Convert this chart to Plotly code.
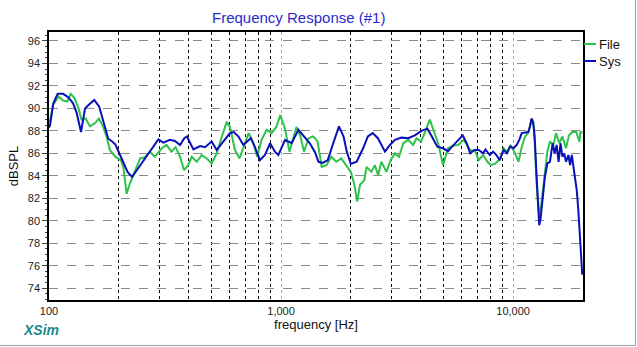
import plotly.graph_objects as go

# Measured response: "File" (green) and simulated system "Sys" (blue)
file_freq = [101, 104, 110, 115, 120, 124, 129, 134, 138, 144, 150, 158, 164, 171, 177, 183, 193, 204,
             209, 216, 223, 235, 247, 259, 272, 286, 306, 321, 337, 351, 367, 382, 398, 412, 433, 455,
             478, 502, 528, 556, 583, 602, 633, 662, 694, 725, 756, 789, 824, 867, 909, 954, 992, 1040,
             1086, 1129, 1165, 1212, 1256, 1313, 1372, 1400, 1437, 1496, 1570, 1646, 1730, 1817, 1920,
             1998, 2065, 2129, 2188, 2283, 2335, 2450, 2535, 2620, 2705, 2845, 2966, 3094, 3221, 3363,
             3530, 3706, 3834, 4011, 4171, 4375, 4567, 4752, 4988, 5241, 5540, 5800, 6130, 6530, 6880,
             7100, 7430, 7750, 8000, 8400, 8800, 9100, 9450, 9750, 10200, 10550, 10900, 11250, 11600,
             12000, 12300, 12500, 12650, 12950, 13130, 13390, 13700, 14040, 14400, 14900, 15300, 15800,
             16300, 16900, 17400, 18000, 18700, 19300, 19500, 19900]
file_db = [88.8, 90.3, 91.05, 90.7, 90.6, 91.3, 90.9, 90.0, 89.0, 89.1, 88.4, 88.7, 89.1, 88.4, 87.5, 86.3,
           85.7, 85.4, 84.8, 82.4, 83.3, 84.5, 85.55, 85.65, 86.15, 85.7, 86.45, 86.75, 86.15, 86.55, 85.7,
           84.5, 84.95, 85.7, 85.25, 85.85, 85.55, 85.1, 86.0, 87.5, 88.8, 88.35, 86.3, 85.55, 86.75, 87.8,
           87.05, 85.7, 87.2, 88.1, 87.8, 88.35, 89.4, 88.2, 86.15, 87.5, 88.35, 87.5, 86.15, 87.35, 87.5,
           87.35, 87.05, 84.8, 84.95, 85.7, 85.25, 85.55, 84.8, 84.35, 83.3, 81.7, 83.2, 83.6, 84.8, 84.35,
           84.95, 84.05, 85.25, 84.35, 85.4, 86.0, 85.7, 86.9, 87.2, 86.75, 87.35, 87.05, 87.9, 89.0, 87.9,
           86.9, 84.95, 86.45, 86.7, 86.75, 87.2, 86.3, 86.15, 85.4, 85.85, 85.25, 84.95, 85.1, 85.55,
           86.45, 86.15, 86.75, 86.0, 85.25, 86.6, 87.5, 87.8, 89.0, 88.35, 85.7, 83.0, 80.5, 80.95, 82.45,
           84.5, 86.15, 87.05, 86.75, 87.8, 86.9, 87.5, 86.45, 87.6, 87.9, 87.9, 87.05, 87.9, 87.85]

sys_freq = [100, 101, 104.4, 109, 115, 121, 127, 131.6, 137.4, 143, 148, 156.7, 164.6, 171, 180, 186, 193,
            200, 209, 218, 228, 242, 259, 277, 296, 311, 332, 349, 367, 383, 393, 419, 448, 470, 502, 528,
            564, 602, 626, 655, 688, 740, 770, 811, 852, 897, 941, 973, 1040, 1110, 1188, 1256, 1330, 1400,
            1449, 1514, 1589, 1678, 1776, 1859, 1920, 1998, 2117, 2257, 2366, 2483, 2614, 2804, 2945, 3094,
            3302, 3530, 3769, 4025, 4270, 4464, 4712, 4988, 5241, 5454, 5815, 6062, 6307, 6530, 6800, 7100,
            7430, 7600, 7930, 8200, 8470, 8750, 9100, 9400, 9700, 10030, 10360, 10630, 10890, 11250, 11620,
            11800, 12010, 12200, 12400, 12600, 12740, 12820, 12950, 13130, 13390, 13700, 14040, 14400,
            14800, 15100, 15400, 15700, 16000, 16300, 16600, 16900, 17300, 17600, 17900, 18300, 18800,
            19100, 19400, 19700, 19850]
sys_db = [88.3, 88.5, 90.45, 91.3, 91.3, 91.0, 90.45, 89.6, 87.9, 90.0, 90.3, 90.75, 90.15, 89.0, 87.3,
          87.1, 86.8, 86.1, 85.25, 84.35, 83.9, 84.65, 85.55, 86.45, 87.25, 86.95, 87.2, 87.1, 86.75, 87.35,
          87.5, 86.35, 86.65, 86.55, 87.05, 86.3, 87.05, 87.8, 87.9, 87.5, 86.75, 87.35, 86.6, 85.4, 85.85,
          86.9, 86.15, 85.85, 87.2, 86.9, 88.1, 87.5, 86.9, 86.1, 85.25, 85.15, 85.4, 86.9, 88.4, 87.5,
          86.15, 85.05, 85.25, 86.45, 87.5, 87.8, 87.35, 86.15, 86.75, 87.2, 87.4, 87.35, 87.6, 88.0, 88.2,
          87.5, 86.6, 86.45, 86.2, 86.6, 87.2, 87.6, 86.9, 86.0, 86.3, 86.3, 86.0, 86.35, 85.85, 86.15,
          85.85, 85.4, 86.3, 86.0, 86.6, 86.45, 86.75, 87.2, 87.8, 87.85, 87.9, 88.35, 89.1, 88.8, 87.2,
          84.2, 81.85, 80.2, 79.6, 80.2, 81.85, 83.9, 85.1, 85.25, 86.9, 86.0, 86.75, 85.25, 86.9, 85.7,
          86.0, 85.25, 85.85, 84.95, 85.85, 84.35, 82.7, 80.9, 78.9, 77.1, 75.2]

x_tick_vals = [100, 1000, 10000]
x_tick_text = ["100", "1,000", "10,000"]
x_minor_vals = [200, 300, 400, 500, 600, 700, 800, 900,
                2000, 3000, 4000, 5000, 6000, 7000, 8000, 9000]
y_tick_vals = [74, 76, 78, 80, 82, 84, 86, 88, 90, 92, 94, 96]

GREEN = "#2fc24a"
BLUE = "#0a10b8"
FONT = "Liberation Sans, Arial, sans-serif"

W, H = 637, 347
L, R, T, B = 49, 54, 32, 47
PW, PH = W - L - R, H - T - B


def px(x):
    return (x - L) / PW


def py(y):
    return (H - B - y) / PH


fig = go.Figure()
fig.add_trace(go.Scatter(x=file_freq, y=file_db, name="File", mode="lines",
                         line=dict(color=GREEN, width=2)))
fig.add_trace(go.Scatter(x=sys_freq, y=sys_db, name="Sys", mode="lines",
                         line=dict(color=BLUE, width=2)))

fig.update_xaxes(
    type="log", range=[2, 4.301], tickvals=x_tick_vals, ticktext=x_tick_text,
    showgrid=True, gridcolor="#a8a8a8", griddash="dot", gridwidth=1,
    minor=dict(tickvals=x_minor_vals, showgrid=True, gridcolor="#000000", griddash="dot",
               gridwidth=1, ticks=""),
    showline=True, linecolor="black", linewidth=1.5, mirror=True, ticks="",
    tickfont=dict(family=FONT, size=11, color="#222"),
    title=dict(text="frequency [Hz]", font=dict(family=FONT, size=13, color="#111"), standoff=4),
    zeroline=False,
)
fig.update_yaxes(
    range=[72.95, 96.8], tickvals=y_tick_vals,
    showgrid=True, gridcolor="#8a8a8a", griddash="dash", gridwidth=1,
    minor=dict(dtick=0.5, ticks="outside", ticklen=2, tickcolor="#444", showgrid=False),
    ticks="outside", ticklen=5, tickcolor="#444",
    showline=True, linecolor="black", linewidth=1.5, mirror=True,
    tickfont=dict(family=FONT, size=11, color="#222"),
    title=dict(text="dBSPL", font=dict(family=FONT, size=13, color="#111"), standoff=6),
    zeroline=False,
)

annotations = [
    dict(text="Frequency Response (#1)", xref="paper", yref="paper", x=px(298), y=py(18),
         xanchor="center", yanchor="middle", showarrow=False,
         font=dict(family=FONT, size=15, color="#2a2ad0")),
    dict(text="<b><i>XSim</i></b>", xref="paper", yref="paper", x=px(21), y=py(330),
         xanchor="left", yanchor="middle", showarrow=False,
         font=dict(family=FONT, size=14, color="#1f8a8f")),
]
shapes = []
# legend entries drawn beside the plot frame
for name, color, ly in [("File", GREEN, 44), ("Sys", BLUE, 61)]:
    shapes.append(dict(type="line", xref="paper", yref="paper", x0=px(584), x1=px(596),
                       y0=py(ly), y1=py(ly), line=dict(color=color, width=2)))
    annotations.append(dict(text=name, xref="paper", yref="paper", x=px(597), y=py(ly),
                            xanchor="left", yanchor="middle", showarrow=False,
                            font=dict(family=FONT, size=13, color="#111")))
# thin grey frame on the right and bottom edges of the figure
shapes.append(dict(type="line", xref="paper", yref="paper", x0=px(635.5), x1=px(635.5),
                   y0=py(0), y1=py(345.5), line=dict(color="#a0a0a0", width=1)))
shapes.append(dict(type="line", xref="paper", yref="paper", x0=px(0), x1=px(635.5),
                   y0=py(345.5), y1=py(345.5), line=dict(color="#a0a0a0", width=1)))

fig.update_layout(
    width=W, height=H, margin=dict(l=L, r=R, t=T, b=B),
    paper_bgcolor="white", plot_bgcolor="white", showlegend=False,
    annotations=annotations, shapes=shapes,
)

fig.write_html("out.html")
